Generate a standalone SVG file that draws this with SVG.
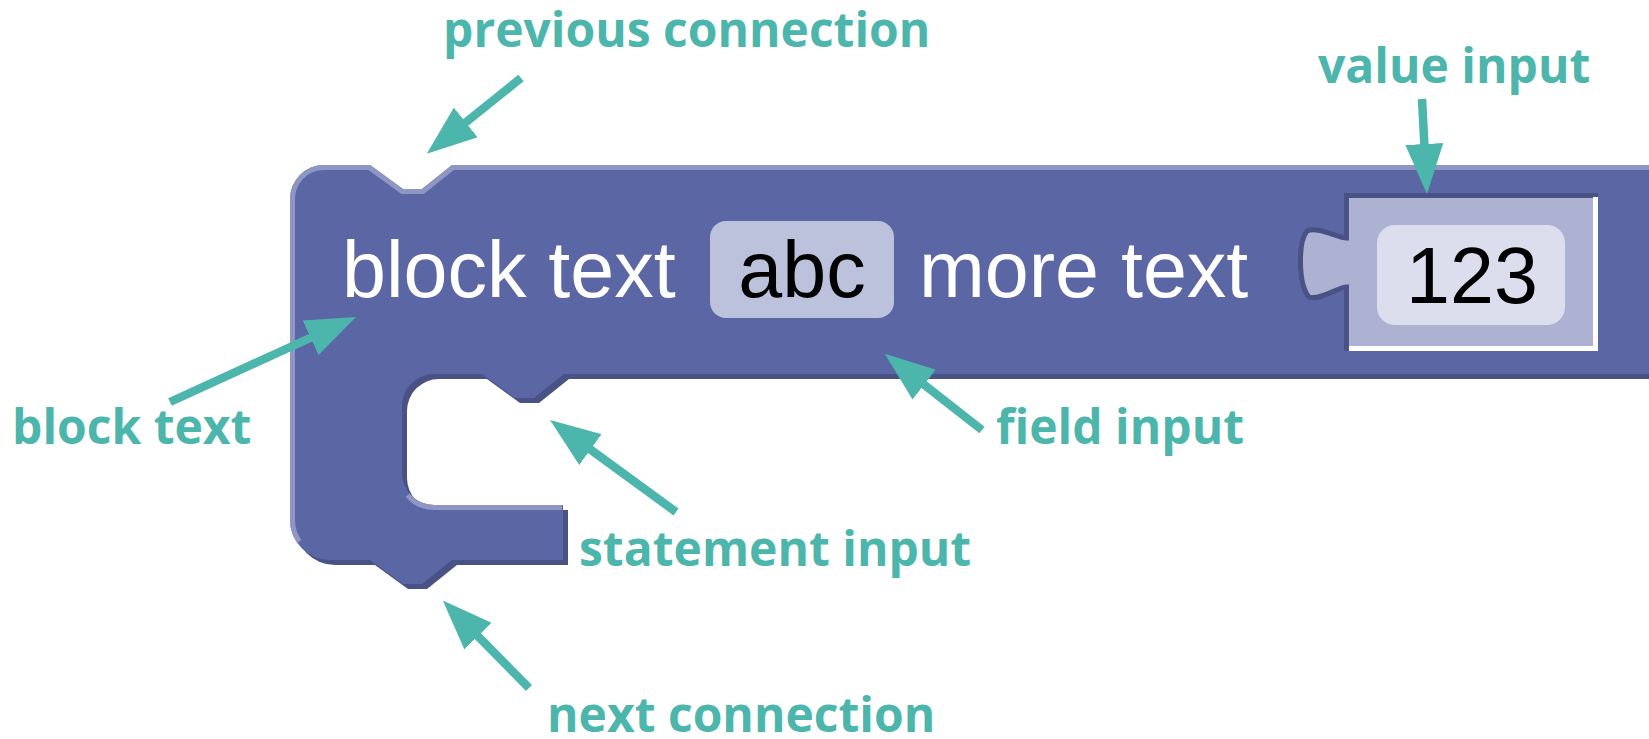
<svg xmlns="http://www.w3.org/2000/svg" xmlns:xlink="http://www.w3.org/1999/xlink" width="1649" height="739" viewBox="0 0 1649 739">
  <style>
    .label { font-family: "Open Sans", "DejaVu Sans", sans-serif; font-weight: 700; font-size: 48px; fill: #4db6ac; }
    .blockText { font-family: "Liberation Sans", Arial, sans-serif; font-size: 79px; fill: #ffffff; }
    .fieldText { font-family: "Liberation Sans", Arial, sans-serif; font-size: 79px; fill: #000000; }
    .arrow { stroke: #4db6ac; stroke-width: 8.5; fill: none; marker-end: url(#head); }
  </style>
  <defs>
    <!-- C-shaped statement block outline -->
    <path id="blockPath" d="M324,165 H370 L403,189 H422 L452,165 H1700 V374 H564 L534,398 H515 L482,374 H434 A32,32 0 0 0 402,406 V473 A32,32 0 0 0 434,505 H563 V560 H452 L422,584 H403 L370,560 H330 A40,40 0 0 1 290,520 V199 A34,34 0 0 1 324,165 Z"/>
    <marker id="head" markerUnits="userSpaceOnUse" viewBox="0 0 50 38" markerWidth="50" markerHeight="38" refX="3" refY="19" orient="auto">
      <path d="M0,0 L50,19 L0,38 Z" fill="#4db6ac"/>
    </marker>
  </defs>

  <rect width="1649" height="739" fill="#ffffff"/>

  <g id="block">
    <use xlink:href="#blockPath" href="#blockPath" transform="translate(5,5)" fill="#495284"/>
    <use xlink:href="#blockPath" href="#blockPath" fill="#5b67a5"/>
    <!-- highlight along top and left edges -->
    <path d="M299.3,541.5 A37.5,37.5 0 0 1 292.5,520 V199 A31.5,31.5 0 0 1 324,167.5 H369.2 L402.2,191.5 H422.9 L452.9,167.5 H1700" fill="none" stroke="#8e97c3" stroke-width="5"/>
    <!-- highlight along the top of the lower arm -->
    <path d="M407.6,495.2 A34.5,34.5 0 0 0 434,507.5 H562" fill="none" stroke="#8e97c3" stroke-width="5"/>
    <text class="blockText" x="342" y="297">block text</text>
    <text class="blockText" x="919" y="297">more text</text>
  </g>

  <g id="field-input">
    <rect x="710" y="221" width="184" height="97" rx="16" fill="#bcc1dc"/>
    <text class="fieldText" x="802" y="297" text-anchor="middle">abc</text>
  </g>

  <g id="value-input">
    <path d="M1346,193 H1598 V351 H1346 V287 C1338,287 1320,301 1309,297 C1298,284 1298,242 1307,231 C1318,226 1338,238 1346,238 Z" fill="#adb2d3"/>
    <path d="M1598,195.5 H1346.5 V238 C1338,238 1318,226 1307,231 C1298,242 1298,284 1309,297 C1320,301 1338,287 1346.5,287 V351" fill="none" stroke="#495284" stroke-width="5"/>
    <path d="M1595.5,197 V348.5 H1349" fill="none" stroke="#ffffff" stroke-width="5"/>
    <rect x="1377" y="225" width="188" height="100" rx="18" fill="#dcdeee"/>
    <text class="fieldText" x="1472" y="303" text-anchor="middle">123</text>
  </g>

  <g id="connectors">
    <line class="arrow" x1="521" y1="78" x2="463.4" y2="124.3"/>
    <line class="arrow" x1="1422" y1="99" x2="1424.5" y2="147"/>
    <line class="arrow" x1="170" y1="402" x2="313.3" y2="336.5"/>
    <line class="arrow" x1="982" y1="430" x2="921.8" y2="382.8"/>
    <line class="arrow" x1="676" y1="512" x2="588" y2="447.8"/>
    <line class="arrow" x1="529" y1="688" x2="475.8" y2="634"/>
  </g>

  <g id="label-previous"><text class="label" x="443" y="47">previous connection</text></g>
  <g id="label-value"><text class="label" x="1318" y="83">value input</text></g>
  <g id="label-block"><text class="label" x="12" y="444">block text</text></g>
  <g id="label-field"><text class="label" x="996" y="444">field input</text></g>
  <g id="label-statement"><text class="label" x="579" y="566">statement input</text></g>
  <g id="label-next"><text class="label" x="547" y="732">next connection</text></g>
</svg>
